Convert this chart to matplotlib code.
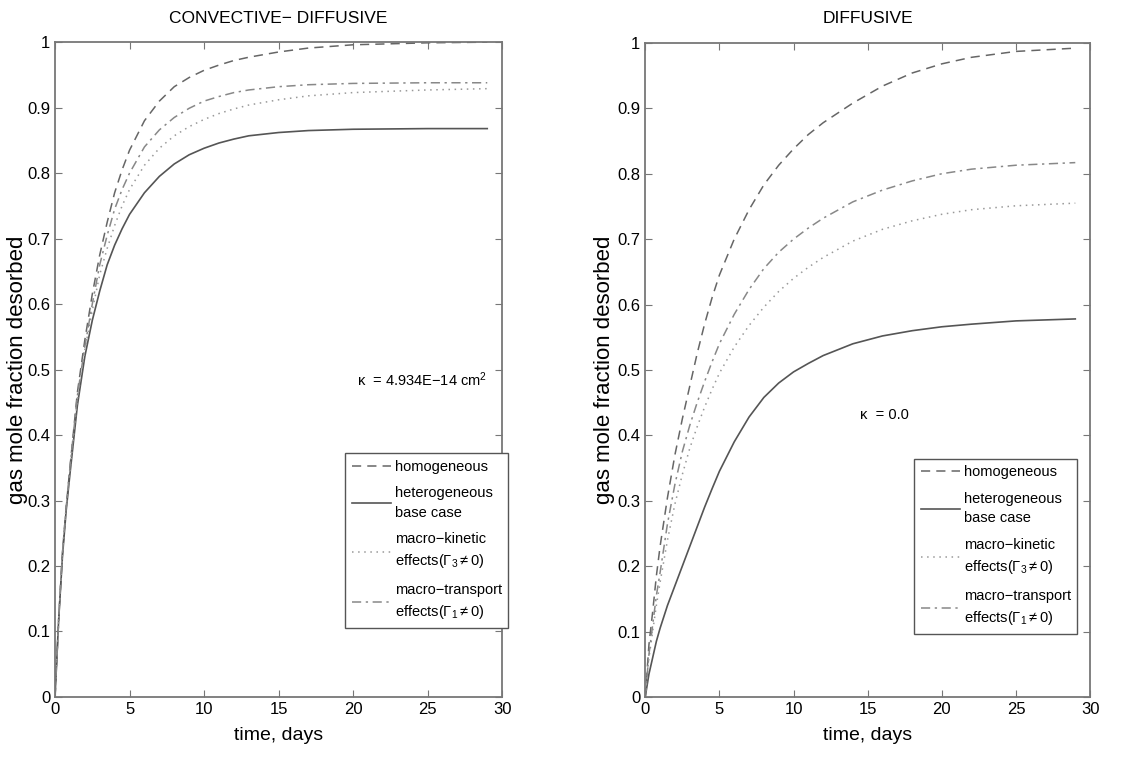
import matplotlib
matplotlib.use("Agg")
import matplotlib.pyplot as plt
import numpy as np

plt.rcParams['font.family'] = ['Liberation Sans', 'DejaVu Sans']
plt.rcParams['mathtext.fontset'] = 'custom'
plt.rcParams['mathtext.rm'] = 'Liberation Sans'
plt.rcParams['mathtext.it'] = 'Liberation Sans:italic'

# convective-diffusive panel
t_cd = [0, 0.25, 0.5, 0.75, 1, 1.5, 2, 2.5, 3, 3.5, 4, 4.5, 5, 6, 7, 8, 9, 10, 11, 12, 13, 15, 17, 20, 25, 29]
homog_cd = [0, 0.12, 0.22, 0.29, 0.35, 0.465, 0.545, 0.615, 0.675, 0.725, 0.77, 0.805, 0.835, 0.88, 0.91,
            0.932, 0.946, 0.957, 0.965, 0.972, 0.977, 0.985, 0.991, 0.996, 0.999, 1.0]
base_cd = [0, 0.12, 0.215, 0.285, 0.34, 0.445, 0.52, 0.575, 0.62, 0.66, 0.69, 0.715, 0.737, 0.77, 0.795,
           0.814, 0.828, 0.838, 0.846, 0.852, 0.857, 0.862, 0.865, 0.867, 0.868, 0.868]
kinetic_cd = [0, 0.12, 0.22, 0.29, 0.345, 0.455, 0.53, 0.59, 0.645, 0.685, 0.72, 0.75, 0.775, 0.812, 0.838,
              0.857, 0.871, 0.882, 0.891, 0.898, 0.904, 0.912, 0.918, 0.923, 0.927, 0.929]
transport_cd = [0, 0.12, 0.22, 0.29, 0.35, 0.46, 0.535, 0.60, 0.66, 0.705, 0.745, 0.775, 0.80, 0.84, 0.866,
                0.885, 0.899, 0.91, 0.917, 0.923, 0.927, 0.932, 0.935, 0.937, 0.938, 0.938]

# diffusive panel
t_d = [0, 0.25, 0.5, 0.75, 1, 1.5, 2, 2.5, 3, 3.5, 4, 4.5, 5, 6, 7, 8, 9, 10, 11, 12, 14, 16, 18, 20, 22, 25, 29]
homog_d = [0, 0.08, 0.13, 0.185, 0.23, 0.305, 0.37, 0.425, 0.475, 0.525, 0.57, 0.61, 0.645, 0.70, 0.745,
           0.783, 0.813, 0.838, 0.86, 0.878, 0.908, 0.934, 0.954, 0.968, 0.978, 0.987, 0.992]
base_d = [0, 0.035, 0.06, 0.085, 0.105, 0.14, 0.17, 0.20, 0.23, 0.26, 0.29, 0.318, 0.345, 0.39, 0.428,
          0.458, 0.48, 0.497, 0.51, 0.522, 0.54, 0.552, 0.56, 0.566, 0.57, 0.575, 0.578]
kinetic_d = [0, 0.06, 0.10, 0.14, 0.175, 0.24, 0.295, 0.34, 0.38, 0.413, 0.443, 0.47, 0.495, 0.535, 0.568,
             0.596, 0.62, 0.64, 0.657, 0.672, 0.697, 0.715, 0.728, 0.738, 0.745, 0.751, 0.755]
transport_d = [0, 0.065, 0.11, 0.155, 0.19, 0.265, 0.325, 0.375, 0.415, 0.45, 0.482, 0.512, 0.54, 0.585, 0.623,
               0.655, 0.68, 0.70, 0.717, 0.732, 0.757, 0.775, 0.789, 0.80, 0.807, 0.813, 0.817]

labels = ['homogeneous', 'heterogeneous\nbase case',
          'macro\u2212kinetic\neffects($\\Gamma_3\\neq$0)',
          'macro\u2212transport\neffects($\\Gamma_1\\neq$0)']

fig = plt.figure(figsize=(11.32, 7.57), dpi=100)
ax1 = fig.add_axes([0.0486, 0.0793, 0.395, 0.865])
ax2 = fig.add_axes([0.570, 0.0793, 0.393, 0.864])

def panel(ax, t, h, b, k, tr, title, note, note_xy, leg_box, ylab_x):
    ax.plot(t, h, color='#666666', lw=1.1, dashes=(6, 4), label=labels[0])
    ax.plot(t, b, color='#555555', lw=1.2, linestyle='-', label=labels[1])
    ax.plot(t, k, color='#999999', lw=1.1, dashes=(1, 3), label=labels[2])
    ax.plot(t, tr, color='#888888', lw=1.1, dashes=(6, 3, 1.5, 3), label=labels[3])
    ax.set_xlim(0, 30)
    ax.set_ylim(0, 1)
    ax.set_xticks(np.arange(0, 31, 5))
    ax.set_yticks(np.arange(0, 1.01, 0.1))
    ax.set_yticklabels(['0', '0.1', '0.2', '0.3', '0.4', '0.5', '0.6', '0.7', '0.8', '0.9', '1'])
    ax.tick_params(direction='in', top=True, right=True, length=5, labelsize=12, color='#777777')
    for s in ax.spines.values():
        s.set_color('#777777')
        s.set_linewidth(1.3)
    ax.set_title(title, fontsize=12.5, pad=14)
    ax.set_xlabel('time, days', fontsize=14, labelpad=7)
    ax.set_ylabel('gas mole fraction desorbed', fontsize=16)
    ax.yaxis.set_label_coords(ylab_x, 0.5)
    ax.text(note_xy[0], note_xy[1], note, transform=ax.transAxes, fontsize=10.5)
    leg = ax.legend(loc='upper left', bbox_to_anchor=leg_box, fontsize=10.5, frameon=True,
                    fancybox=False, handlelength=2.7, handletextpad=0.25, labelspacing=0.85,
                    borderpad=0.45, borderaxespad=0, framealpha=1)
    for txt in leg.get_texts():
        txt.set_linespacing(1.5)
    leg.get_frame().set_edgecolor('#555555')
    leg.get_frame().set_linewidth(1.0)

panel(ax1, t_cd, homog_cd, base_cd, kinetic_cd, transport_cd,
      'CONVECTIVE\u2212 DIFFUSIVE', '\u03ba  = 4.934E\u221214 cm$^2$', (0.676, 0.475), (0.649, 0.3725), -0.061)
panel(ax2, t_d, homog_d, base_d, kinetic_d, transport_d,
      'DIFFUSIVE', '\u03ba  = 0.0', (0.483, 0.425), (0.6045, 0.364), -0.067)

fig.savefig('out.png', dpi=100)
